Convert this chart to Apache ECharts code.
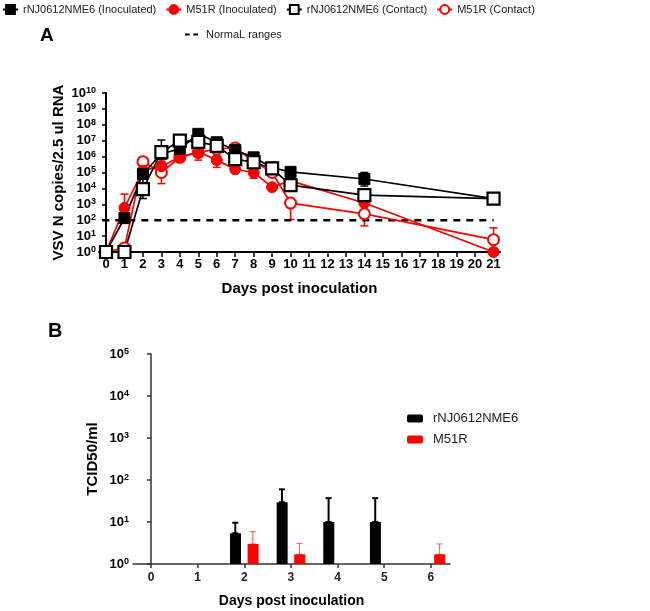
<!DOCTYPE html>
<html>
<head>
<meta charset="utf-8">
<script src="https://cdn.jsdelivr.net/npm/echarts@6/dist/echarts.min.js"></script>
<style>
html,body{margin:0;padding:0;background:#fff;}
#c{width:650px;height:611px;}
</style>
</head>
<body>
<div id="c"></div>
<script>
// ---------- Panel A data ----------
const days = [0, 1, 2, 3, 4, 5, 6, 7, 8, 9, 10, 14, 21];
const njInoc  = [1, 135, 8e4, 1.5e6, 3e6, 2.7e7, 8e6, 2.6e6, 9e5, 2e5, 1.1e5, 3.9e4, 2.3e3];
const m51Inoc = [1, 600, 1.3e5, 2.5e5, 9e5, 2e6, 6e5, 1.6e5, 1e5, 1.2e4, 3e4, 1.2e3, 1];
const njCont  = [1, 1, 9e3, 1.9e6, 1e7, 8.5e6, 4.7e6, 7e5, 4.4e5, 1.8e5, 1.6e4, 3.8e3, 2.3e3];
const m51Cont = [1, 1.8, 4.8e5, 1e5, 9e5, 1.8e6, 3e6, 3.5e6, 5e5, 1e5, 1.2e3, 250, 6];
// error bars (low / high), null = none
const njInocLo  = [null, 70, 2e4, null, 1.5e6, 1.5e7, null, 1.5e6, null, null, 6e4, 1.4e4, null];
const njInocHi  = [null, 250, 1.5e5, null, 5e6, 4e7, null, 4e6, null, null, 1.8e5, 1e5, null];
const m51InocLo = [null, 150, 5e4, null, null, null, 2.1e5, null, 4.3e4, null, null, null, null];
const m51InocHi = [null, 4.4e3, 2e5, null, null, null, 1.2e6, null, 2e5, null, null, null, null];
const njContLo  = [null, null, 2.3e3, 5e5, null, null, null, null, null, null, null, null, null];
const njContHi  = [null, null, 2e4, 1.1e7, null, null, null, null, null, null, null, null, null];
const m51ContLo = [null, null, null, 2e4, 6e5, 6e5, null, null, null, null, 110, 44, 6];
const m51ContHi = [null, null, null, 3.5e5, 1.5e6, 3e6, null, null, null, null, 1.2e3, 250, 33];
const normalRange = 100;
const xTicksA = [0,1,2,3,4,5,6,7,8,9,10,11,12,13,14,15,16,17,18,19,20,21];
const yTicksA = [1, 1e1, 1e2, 1e3, 1e4, 1e5, 1e6, 1e7, 1e8, 1e9, 1e10];

// ---------- Panel B data ----------
const daysB = [0, 1, 2, 3, 4, 5, 6];
const tcidNJ  = [null, null, 5.4, 29.5, 10, 10, null];
const tcidNJErr  = [null, null, 9.6, 60, 37, 37, null];
const tcidM51 = [null, null, 3, 1.7, null, null, 1.7];
const tcidM51Err = [null, null, 5.9, 3.1, null, null, 3.0];
const yTicksB = [1, 1e1, 1e2, 1e3, 1e4, 1e5];

const RED = '#ff0000';
const BLACK = '#000000';
const FONT = 'Liberation Sans, Arial, sans-serif';

function pairs(xs, vals) { return xs.map((d, i) => [d, vals[i]]); }
function errData(xs, lo, hi) {
  const out = [];
  xs.forEach((d, i) => { if (lo[i] != null && hi[i] != null) out.push([d, lo[i], hi[i]]); });
  return out;
}
function errSeries(name, data, color, xi, lw, cap, offset) {
  return {
    type: 'custom', name: name, xAxisIndex: xi, yAxisIndex: xi, silent: true,
    data: data, encode: { x: 0, y: [1, 2] }, z: 1,
    renderItem: function (params, api) {
      const x = api.value(0);
      const p1 = api.coord([x, api.value(1)]);
      const p2 = api.coord([x, api.value(2)]);
      const cx = p1[0] + offset;
      const st = { stroke: color, lineWidth: lw };
      return {
        type: 'group', children: [
          { type: 'line', shape: { x1: cx, y1: p1[1], x2: cx, y2: p2[1] }, style: st },
          { type: 'line', shape: { x1: cx - cap, y1: p1[1], x2: cx + cap, y2: p1[1] }, style: st },
          { type: 'line', shape: { x1: cx - cap, y1: p2[1], x2: cx + cap, y2: p2[1] }, style: st }
        ]
      };
    }
  };
}
function supFmt(v) {
  const e = Math.round(Math.log10(v));
  return '{b|10}{s|' + e + '}';
}
const supRich = {
  b: { fontSize: 13, fontWeight: 'bold', fontFamily: FONT, color: BLACK },
  s: { fontSize: 9, fontWeight: 'bold', fontFamily: FONT, color: BLACK, verticalAlign: 'top', lineHeight: 14 }
};

const chart = echarts.init(document.getElementById('c'));
const lineCommon = { xAxisIndex: 0, yAxisIndex: 0, z: 3 };

chart.setOption({
  animation: false,
  backgroundColor: '#fff',
  textStyle: { fontFamily: FONT },
  title: [
    { text: 'A', left: 35, top: 21, textStyle: { fontSize: 19, fontWeight: 'bold', color: BLACK, fontFamily: FONT } },
    { text: 'B', left: 43, top: 316, textStyle: { fontSize: 20, fontWeight: 'bold', color: BLACK, fontFamily: FONT } }
  ],
  legend: [
    {
      data: ['rNJ0612NME6 (Inoculated)', 'M51R (Inoculated)', 'rNJ0612NME6 (Contact)', 'M51R (Contact)'],
      left: -3, top: -1, itemWidth: 15, itemHeight: 11, itemGap: 9,
      textStyle: { fontSize: 11, color: '#222', fontFamily: FONT }
    },
    {
      data: [{ name: 'NormaL ranges', icon: 'path://M0,0h5v2h-5zM9,0h5v2h-5z' }],
      left: 180, top: 24, itemWidth: 13, itemHeight: 3,
      textStyle: { fontSize: 11, color: '#222', fontFamily: FONT, padding: [0, 0, 0, 3] }
    },
    {
      data: ['rNJ0612NME6', 'M51R'], orient: 'vertical', left: 402, top: 407,
      itemWidth: 16, itemHeight: 8, itemGap: 8,
      textStyle: { fontSize: 13, color: '#222', fontFamily: FONT, padding: [0, 0, 0, 5] }
    }
  ],
  grid: [
    { left: 99, top: 93, width: 401, height: 159 },
    { left: 133, top: 354, width: 317, height: 210 }
  ],
  xAxis: [
    {
      gridIndex: 0, type: 'value', min: -0.38, max: 21.35,
      name: 'Days post inoculation', nameLocation: 'middle', nameGap: 29, nameMoveOverlap: false,
      nameTextStyle: { fontSize: 15, fontWeight: 'bold', color: BLACK, fontFamily: FONT },
      axisLine: { show: true, onZero: false, lineStyle: { color: BLACK, width: 2 } },
      axisTick: { show: true, length: 5, lineStyle: { color: BLACK, width: 1.5 }, customValues: xTicksA },
      axisLabel: { customValues: xTicksA, fontSize: 13, fontWeight: 'bold', color: BLACK, margin: 6, fontFamily: FONT },
      splitLine: { show: false }
    },
    {
      gridIndex: 1, type: 'value', min: -0.386, max: 6.41,
      name: 'Days post inoculation', nameLocation: 'middle', nameGap: 30, nameMoveOverlap: false,
      nameTextStyle: { fontSize: 14, fontWeight: 'bold', color: BLACK, fontFamily: FONT },
      axisLine: { show: true, onZero: false, lineStyle: { color: '#333', width: 1.5 } },
      axisTick: { show: true, length: 4, lineStyle: { color: '#333', width: 1.5 }, customValues: daysB },
      axisLabel: { customValues: daysB, fontSize: 12, fontWeight: 'bold', color: '#222', margin: 8, fontFamily: FONT },
      splitLine: { show: false }
    }
  ],
  yAxis: [
    {
      gridIndex: 0, type: 'log', logBase: 10, min: 1, max: 1e10,
      name: 'VSV N copies/2.5 ul RNA', nameLocation: 'middle', nameGap: 33, nameMoveOverlap: false,
      nameTextStyle: { fontSize: 15, fontWeight: 'bold', color: BLACK, fontFamily: FONT },
      axisLine: { show: true, lineStyle: { color: BLACK, width: 2 } },
      axisTick: { show: true, length: 4, lineStyle: { color: BLACK, width: 1.5 }, customValues: yTicksA },
      axisLabel: { customValues: yTicksA, formatter: supFmt, rich: supRich, margin: 3 },
      splitLine: { show: false }
    },
    {
      gridIndex: 1, type: 'log', logBase: 10, min: 1, max: 1e5,
      name: 'TCID50/ml', nameLocation: 'middle', nameGap: 33, nameMoveOverlap: false,
      nameTextStyle: { fontSize: 15, fontWeight: 'bold', color: BLACK, fontFamily: FONT },
      axisLine: { show: true, lineStyle: { color: '#333', width: 1.5 } },
      axisTick: { show: true, length: 4, lineStyle: { color: '#333', width: 1.5 }, customValues: yTicksB },
      axisLabel: { customValues: yTicksB, formatter: supFmt, rich: supRich, margin: 4 },
      splitLine: { show: false }
    }
  ],
  series: [
    {
      type: 'line', name: 'NormaL ranges', xAxisIndex: 0, yAxisIndex: 0, showSymbol: false, symbol: 'none',
      data: [[-0.2, normalRange], [21, normalRange]], z: 2,
      lineStyle: { color: BLACK, width: 2.5, type: [7, 6] }, itemStyle: { color: BLACK }
    },
    errSeries('eM51Cont', errData(days, m51ContLo, m51ContHi), RED, 0, 1.5, 4, 0),
    errSeries('eM51Inoc', errData(days, m51InocLo, m51InocHi), RED, 0, 1.5, 4, 0),
    errSeries('eNjInoc', errData(days, njInocLo, njInocHi), BLACK, 0, 1.5, 4, 0),
    errSeries('eNjCont', errData(days, njContLo, njContHi), BLACK, 0, 1.5, 4, 0),
    Object.assign({
      type: 'line', name: 'M51R (Contact)', data: pairs(days, m51Cont),
      symbol: 'circle', symbolSize: 11, color: RED,
      itemStyle: { color: '#fff', borderColor: RED, borderWidth: 2 },
      lineStyle: { color: RED, width: 1.7 }
    }, lineCommon),
    Object.assign({
      type: 'line', name: 'M51R (Inoculated)', data: pairs(days, m51Inoc),
      symbol: 'circle', symbolSize: 11, color: RED,
      itemStyle: { color: RED, borderColor: RED, borderWidth: 1 },
      lineStyle: { color: RED, width: 1.7 }
    }, lineCommon),
    Object.assign({
      type: 'line', name: 'rNJ0612NME6 (Inoculated)', data: pairs(days, njInoc),
      symbol: 'rect', symbolSize: 11, color: BLACK,
      itemStyle: { color: BLACK, borderColor: BLACK, borderWidth: 1 },
      lineStyle: { color: BLACK, width: 1.7 }
    }, lineCommon),
    Object.assign({
      type: 'line', name: 'rNJ0612NME6 (Contact)', data: pairs(days, njCont),
      symbol: 'rect', symbolSize: 12, color: BLACK,
      itemStyle: { color: '#fff', borderColor: BLACK, borderWidth: 2.2 },
      lineStyle: { color: BLACK, width: 1.7 }
    }, lineCommon),
    {
      type: 'bar', name: 'rNJ0612NME6', xAxisIndex: 1, yAxisIndex: 1,
      data: pairs(daysB, tcidNJ), barWidth: 11, barGap: '60%',
      itemStyle: { color: BLACK }, color: BLACK
    },
    {
      type: 'bar', name: 'M51R', xAxisIndex: 1, yAxisIndex: 1,
      data: pairs(daysB, tcidM51), barWidth: 11, barGap: '60%',
      itemStyle: { color: RED }, color: RED
    },
    errSeries('eBarNJ', errData(daysB, tcidNJ, tcidNJErr), BLACK, 1, 2, 3, -9),
    errSeries('eBarM51', errData(daysB, tcidM51, tcidM51Err), '#f55', 1, 1, 3, 8.5)
  ]
});
</script>
</body>
</html>
